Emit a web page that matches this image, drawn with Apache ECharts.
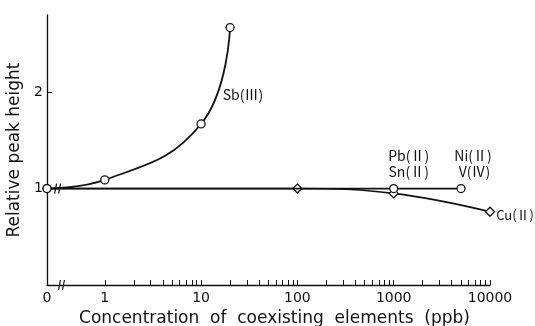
<!DOCTYPE html>
<html>
<head>
<meta charset="utf-8">
<script src="https://cdn.jsdelivr.net/npm/echarts@6/dist/echarts.min.js"></script>
<style>
  html, body {margin: 0; padding: 0; background: #fff;}
  #chart {width: 535px; height: 326px;}
</style>
</head>
<body>
<div id="chart"></div>
<script>
// concentration 0 is drawn at the left of the axis break, other values on log10 scale
const ZERO_POS = -0.6;
const BREAK_POS = -0.45;
const tickLabels = ['0', '1', '10', '100', '1000', '10000'];
const tickConc = [0, 1, 10, 100, 1000, 10000];

const sbConc = [0, 1, 10, 20];
const sbHeight = [1.0, 1.09, 1.67, 2.67];

const flatConc = [0, 1000, 5000];
const flatHeight = [1.0, 1.0, 1.0];

const cuConc = [0, 100, 1000, 10000];
const cuHeight = [1.0, 1.0, 0.95, 0.76];

const pos = c => c === 0 ? ZERO_POS : Math.log10(c);
const font = '"DejaVu Sans", sans-serif';

const minorTicks = [];
for (let d = 0; d < 4; d++) {
  for (let m = 2; m <= 9; m++) minorTicks.push(d + Math.log10(m));
}

const chart = echarts.init(document.getElementById('chart'));

const sym = (name) => ({
  symbol: name,
  symbolSize: name === 'diamond' ? 9 : 8,
  itemStyle: {color: '#fff', borderColor: '#111', borderWidth: 1.3}
});
const lbl = (text, extra) => Object.assign({
  show: true,
  formatter: text,
  fontFamily: '"Noto Sans CJK JP", "DejaVu Sans", sans-serif',
  fontSize: 14, lineHeight: 16, color: '#111'
}, extra);

chart.setOption({
  animation: false,
  grid: {left: 47, right: 45, top: 15, bottom: 41, outerBoundsMode: 'none'},
  xAxis: {
    type: 'value',
    min: ZERO_POS,
    max: 4,
    name: 'Concentration  of  coexisting  elements  (ppb)',
    nameLocation: 'middle',
    nameGap: 25,
    nameTextStyle: {fontFamily: font, fontSize: 17, color: '#111', padding: [0, 0, 0, 12]},
    axisLine: {onZero: false, lineStyle: {color: '#111', width: 1.3}},
    splitLine: {show: false},
    axisTick: {
      inside: true, length: 5,
      lineStyle: {color: '#111'},
      customValues: tickConc.slice(1).map(pos).concat(minorTicks)
    },
    axisLabel: {
      fontFamily: font, fontSize: 14, color: '#111', margin: 6,
      customValues: tickConc.map(pos),
      formatter: (v) => {
        const i = tickConc.findIndex(c => Math.abs(pos(c) - v) < 1e-6);
        return i >= 0 ? tickLabels[i] : '';
      }
    }
  },
  yAxis: {
    type: 'value',
    min: 0,
    max: 2.8,
    name: 'Relative peak height',
    nameLocation: 'middle',
    nameGap: 17,
    nameTextStyle: {fontFamily: font, fontSize: 17, color: '#111'},
    axisLine: {show: true, onZero: false, lineStyle: {color: '#111', width: 1.3}},
    splitLine: {show: false},
    axisTick: {inside: true, length: 5, lineStyle: {color: '#111'}, customValues: [1, 2]},
    axisLabel: {fontFamily: font, fontSize: 14, color: '#111', margin: 4, customValues: [1, 2]}
  },
  series: [
    Object.assign({
      type: 'line', name: 'Sb',
      smooth: 0.45,
      lineStyle: {color: '#111', width: 1.8},
      data: sbConc.map((c, i) => {
        const p = {value: [pos(c), sbHeight[i]]};
        if (c === 10) p.label = lbl('Sb(Ⅲ)', {position: 'right', offset: [12, -29]});
        return p;
      })
    }, sym('circle')),
    Object.assign({
      type: 'line', name: 'flat',
      lineStyle: {color: '#111', width: 1.8},
      data: flatConc.map((c, i) => {
        const p = {value: [pos(c), flatHeight[i]]};
        if (c === 1000) p.label = lbl('Pb(Ⅱ)\nSn(Ⅱ)', {position: 'top', distance: 4, offset: [15, 0]});
        if (c === 5000) p.label = lbl('Ni(Ⅱ)\n V(Ⅳ)', {position: 'top', distance: 4, offset: [12, 0], align: 'center'});
        return p;
      })
    }, sym('circle')),
    Object.assign({
      type: 'line', name: 'Cu',
      smooth: 0.4,
      lineStyle: {color: '#111', width: 1.6},
      z: 1,
      data: cuConc.map((c, i) => {
        const p = {value: [pos(c), cuHeight[i]]};
        if (c === 0) p.symbol = 'none';
        if (c === 10000) p.label = lbl('Cu(Ⅱ)', {position: 'right', distance: 1, offset: [0, 3], fontSize: 13});
        return p;
      })
    }, sym('diamond'))
  ]
});

// axis-break marks on the x axis and on the curve at concentration 0
function breakMark(x, y) {
  return {
    type: 'group', x: x, y: y,
    children: [
      {type: 'rect', shape: {x: -3, y: -5, width: 6, height: 10}, style: {fill: '#fff'}},
      {type: 'line', shape: {x1: -3, y1: 5, x2: -1, y2: -5}, style: {stroke: '#111', lineWidth: 1.2}},
      {type: 'line', shape: {x1: 1, y1: 5, x2: 3, y2: -5}, style: {stroke: '#111', lineWidth: 1.2}}
    ],
    z: 100
  };
}
const pAxis = chart.convertToPixel({gridIndex: 0}, [BREAK_POS, 0]);
const pLine = chart.convertToPixel({gridIndex: 0}, [BREAK_POS - 0.04, 1]);
chart.setOption({graphic: [breakMark(pAxis[0], pAxis[1]), breakMark(pLine[0], pLine[1])]});
</script>
</body>
</html>
